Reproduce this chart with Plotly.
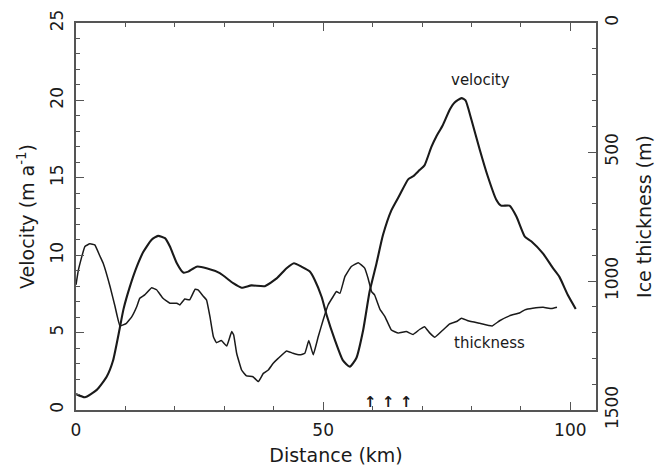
import plotly.graph_objects as go

# Velocity profile (m/a) vs distance (km)
vel_km = [0, 1.8, 4.2, 6.2, 7.5, 8.8, 9.6, 10.9, 12.3, 13.6, 15.3, 16.6, 18.0, 19.0,
          20.4, 21.7, 22.7, 24.4, 26.4, 29.1, 31.8, 33.5, 35.5, 38.2, 40.6, 42.6, 44.1,
          45.6, 47.3, 48.3, 49.7, 50.7, 52.4, 54.0, 55.4, 56.7, 58.1, 59.4, 60.8, 62.1,
          63.8, 65.5, 67.2, 68.2, 69.5, 70.5, 71.9, 72.9, 74.2, 75.6, 76.6, 78.0, 78.8,
          80.0, 81.7, 83.3, 85.0, 86.0, 87.7, 89.1, 90.8, 92.1, 94.5, 96.5, 97.8, 99.5,
          101.1]
velocity = [1.03, 0.82, 1.3, 2.15, 3.2, 5.2, 6.5, 7.97, 9.26, 10.2, 11.0, 11.25, 11.1,
            10.56, 9.48, 8.88, 8.94, 9.26, 9.16, 8.84, 8.19, 7.9, 8.05, 8.0, 8.5, 9.16,
            9.48, 9.26, 8.94, 8.4, 7.3, 6.14, 4.5, 3.2, 2.8, 3.34, 5.17, 7.65, 9.48, 11.3,
            12.9, 13.9, 14.9, 15.1, 15.5, 15.8, 17.0, 17.67, 18.4, 19.4, 19.87, 20.15,
            20.0, 18.75, 16.8, 15.1, 13.6, 13.2, 13.2, 12.5, 11.2, 10.9, 10.1, 9.16, 8.6,
            7.43, 6.53]

# Ice thickness (m) vs distance (km)
thk_km = [0, 0.5, 1.8, 2.8, 3.8, 4.9, 5.5, 6.9, 7.9, 8.9, 10.2, 11.3, 12.3, 12.9, 13.9,
          15.3, 16.3, 17.6, 19.0, 20.4, 21.0, 22.0, 23.0, 24.1, 24.7, 25.7, 26.4, 27.1,
          27.8, 28.4, 29.4, 30.5, 31.5, 31.9, 32.5, 33.5, 34.5, 35.8, 36.9, 37.9, 38.9,
          39.9, 40.9, 42.6, 43.9, 45.3, 46.3, 47.1, 48.0, 49.0, 50.0, 51.0, 52.0, 52.7,
          53.4, 54.4, 55.7, 57.1, 58.4, 59.1, 59.8, 60.4, 61.5, 62.5, 63.8, 65.2, 66.8,
          68.2, 69.5, 70.5, 71.6, 72.6, 73.9, 75.6, 77.0, 78.0, 79.3, 81.7, 84.2, 85.7,
          87.7, 89.8, 90.8, 92.4, 94.5, 96.2, 97.3]
thickness = [1015, 956, 866, 856, 860, 906, 931, 1022, 1099, 1174, 1164, 1138, 1099,
             1067, 1054, 1026, 1034, 1067, 1086, 1086, 1093, 1070, 1073, 1032, 1034, 1058,
             1073, 1138, 1216, 1239, 1231, 1252, 1196, 1209, 1280, 1345, 1368, 1371, 1390,
             1358, 1345, 1319, 1300, 1271, 1280, 1286, 1280, 1231, 1286, 1216, 1151, 1093,
             1061, 1041, 1048, 983, 944, 929, 950, 990, 1041, 1054, 1110, 1138, 1190, 1202,
             1196, 1207, 1188, 1177, 1202, 1218, 1196, 1166, 1157, 1144, 1154, 1164, 1174,
             1154, 1135, 1123, 1112, 1106, 1102, 1107, 1102]

arrow_km = [59.5, 63.2, 66.8]

FONT = "DejaVu Sans"
INK = "#1a1a1a"
AX = "#555555"

fig = go.Figure()
fig.add_trace(go.Scatter(x=vel_km, y=velocity, mode="lines", name="velocity",
                         line=dict(color=INK, width=2.1, shape="spline", smoothing=0.5)))
fig.add_trace(go.Scatter(x=thk_km, y=thickness, mode="lines", name="thickness", yaxis="y2",
                         line=dict(color=INK, width=1.5, shape="spline", smoothing=0.3)))

fig.add_annotation(x=81.8, y=21.3, text="velocity", showarrow=False,
                   font=dict(family=FONT, size=15, color=INK))
fig.add_annotation(x=83.7, y=4.3, text="thickness", showarrow=False,
                   font=dict(family=FONT, size=15, color=INK))
for k in arrow_km:
    fig.add_annotation(x=k, y=0, yanchor="bottom", text="<b>↑</b>", showarrow=False,
                       font=dict(family=FONT, size=15, color=INK), yshift=-3)

common = dict(ticks="inside", ticklen=8, tickwidth=1.2, tickcolor=AX, showline=True,
              linecolor=AX, linewidth=1.5, showgrid=False, zeroline=False,
              automargin=False, tickfont=dict(size=17))

fig.update_layout(
    width=659, height=466,
    margin=dict(l=76, r=63, t=23, b=56),
    plot_bgcolor="white", paper_bgcolor="white",
    showlegend=False,
    font=dict(family=FONT, size=15, color=INK),
    xaxis=dict(range=[0, 105.2], dtick=50, mirror="ticks",
               minor=dict(dtick=10, ticks="inside", ticklen=4, tickcolor=AX, tickwidth=1.2),
               title=dict(text="Distance (km)", font=dict(size=19), standoff=16),
               ticklabelstandoff=4, **common),
    yaxis=dict(range=[0, 25], dtick=5, tickangle=-90,
               minor=dict(dtick=1, ticks="inside", ticklen=4, tickcolor=AX, tickwidth=1.2),
               title=dict(text="Velocity (m a<sup>-1</sup>)", font=dict(size=19), standoff=8),
               ticklabelstandoff=4, **common),
    yaxis2=dict(range=[1500, 0], dtick=500, overlaying="y", side="right", tickangle=-90,
                minor=dict(dtick=100, ticks="inside", ticklen=4, tickcolor=AX, tickwidth=1.2),
                title=dict(text="Ice thickness (m)", font=dict(size=19), standoff=17),
                **common),
)

fig.write_html("out.html", config={"displayModeBar": False},
               post_script="document.body.style.margin='0px';")
